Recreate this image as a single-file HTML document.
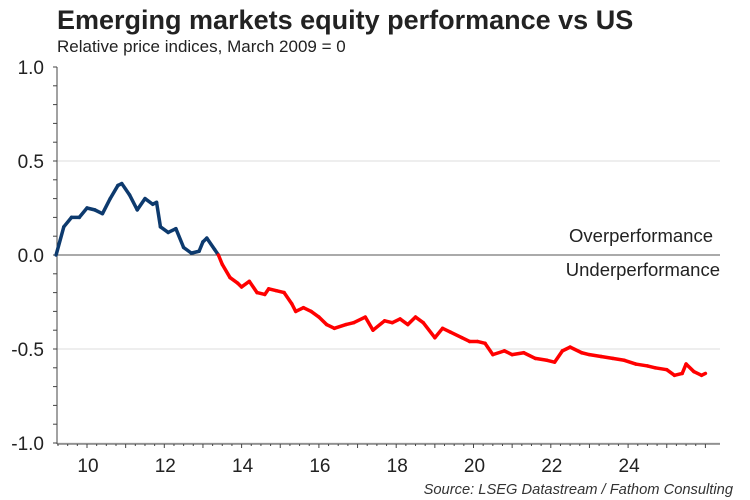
<!DOCTYPE html>
<html><head><meta charset="utf-8"><style>
body{margin:0;background:#fff;}
svg{display:block;font-family:"Liberation Sans",Arial,sans-serif;}
</style></head><body>
<svg id="chart" width="750" height="500">
<text x="57" y="29" font-size="27" font-weight="bold" fill="#222">Emerging markets equity performance vs US</text>
<text x="57" y="52" font-size="17" fill="#222">Relative price indices, March 2009 = 0</text>
<g id="grid"></g><g id="axes"></g><g id="series"></g>
<text x="713" y="242" font-size="18.5" text-anchor="end" fill="#222">Overperformance</text>
<text x="720" y="276" font-size="18.5" text-anchor="end" fill="#222">Underperformance</text>
<text x="733" y="494" font-size="14.7" font-style="italic" text-anchor="end" fill="#333">Source: LSEG Datastream / Fathom Consulting</text>
</svg>
<script>
const years=[2009.2,2009.4,2009.6,2009.8,2010.0,2010.2,2010.4,2010.6,2010.8,2010.9,2011.1,2011.3,2011.5,2011.7,2011.8,2011.9,2012.1,2012.3,2012.5,2012.7,2012.9,2013.0,2013.1,2013.3,2013.4,2013.5,2013.7,2013.9,2014.0,2014.2,2014.4,2014.6,2014.7,2014.9,2015.1,2015.3,2015.4,2015.6,2015.8,2016.0,2016.2,2016.4,2016.7,2016.9,2017.2,2017.4,2017.7,2017.9,2018.1,2018.3,2018.5,2018.7,2019.0,2019.2,2019.4,2019.7,2019.9,2020.1,2020.3,2020.5,2020.8,2021.0,2021.3,2021.6,2021.9,2022.1,2022.3,2022.5,2022.8,2023.0,2023.3,2023.6,2023.9,2024.2,2024.5,2024.7,2025.0,2025.2,2025.4,2025.5,2025.7,2025.9,2026.0];
const values=[0,0.15,0.2,0.2,0.25,0.24,0.22,0.30,0.37,0.38,0.32,0.24,0.30,0.27,0.28,0.15,0.12,0.14,0.04,0.01,0.02,0.07,0.09,0.03,0.0,-0.05,-0.12,-0.15,-0.17,-0.14,-0.20,-0.21,-0.18,-0.19,-0.20,-0.26,-0.30,-0.28,-0.30,-0.33,-0.37,-0.39,-0.37,-0.36,-0.33,-0.40,-0.35,-0.36,-0.34,-0.37,-0.33,-0.36,-0.44,-0.39,-0.41,-0.44,-0.46,-0.46,-0.47,-0.53,-0.51,-0.53,-0.52,-0.55,-0.56,-0.57,-0.51,-0.49,-0.52,-0.53,-0.54,-0.55,-0.56,-0.58,-0.59,-0.60,-0.61,-0.64,-0.63,-0.58,-0.62,-0.64,-0.63];
const yTicks=[1.0,0.5,0.0,-0.5,-1.0];
const yTickLabels=["1.0","0.5","0.0","-0.5","-1.0"];
const xTicks=[2010,2012,2014,2016,2018,2020,2022,2024];
const xTickLabels=["10","12","14","16","18","20","22","24"];
const NS="http://www.w3.org/2000/svg";
const X0=57,X1=720;
function sx(yr){return 87+(yr-2010)*38.65;}
function sy(v){return 255-v*188;}
function mk(parent,tag,attrs){const e=document.createElementNS(NS,tag);for(const k in attrs)e.setAttribute(k,attrs[k]);document.getElementById(parent).appendChild(e);return e;}
yTicks.forEach((v,i)=>{
  if(v!==0&&v!==1){const g=mk('grid','line',{x1:X0,x2:X1,y1:sy(v),y2:sy(v),stroke:'#ddd','stroke-width':1});
  
  }
  const t=mk('axes','text',{x:44,y:sy(v)+7,'font-size':19,'text-anchor':'end',fill:'#222'});t.textContent=yTickLabels[i];
  
  
});
for(let v=-1;v<=1.001;v+=0.1){const l=mk('axes','line',{x1:X0-4,x2:X0,y1:sy(v),y2:sy(v),stroke:'#444'});
  
  }
const ya=mk('axes','line',{x1:X0,x2:X0,y1:sy(1),y2:sy(-1)+1,stroke:'#444'});


const xa=mk('axes','line',{x1:X0,x2:X1,y1:sy(-1)+1,y2:sy(-1)+1,stroke:'#444'});


const zl=mk('axes','line',{x1:X0,x2:X1,y1:sy(0),y2:sy(0),stroke:'#555'});


for(let q=2009.25;q<=2026;q+=0.25){const big=Math.abs(q-Math.round(q))<0.01;
  const l=mk('axes','line',{x1:sx(q),x2:sx(q),y1:sy(-1)+1,y2:sy(-1)+(big?5:3),stroke:'#444'});
  
  }
xTicks.forEach((yr,i)=>{const t=mk('axes','text',{x:sx(yr)+1,y:472,'font-size':19,'text-anchor':'middle',fill:'#222'});t.textContent=xTickLabels[i];
  
  });
for(let i=0;i<years.length-1;i++){
  const c=(values[i]+values[i+1])/2>=0?'#0d3a6e':'#ff0000';
  const s=mk('series','line',{x1:sx(years[i]),y1:sy(values[i]),x2:sx(years[i+1]),y2:sy(values[i+1]),stroke:c,'stroke-width':3.5,'stroke-linecap':'round'});
  
  
}
</script>
</body></html>
